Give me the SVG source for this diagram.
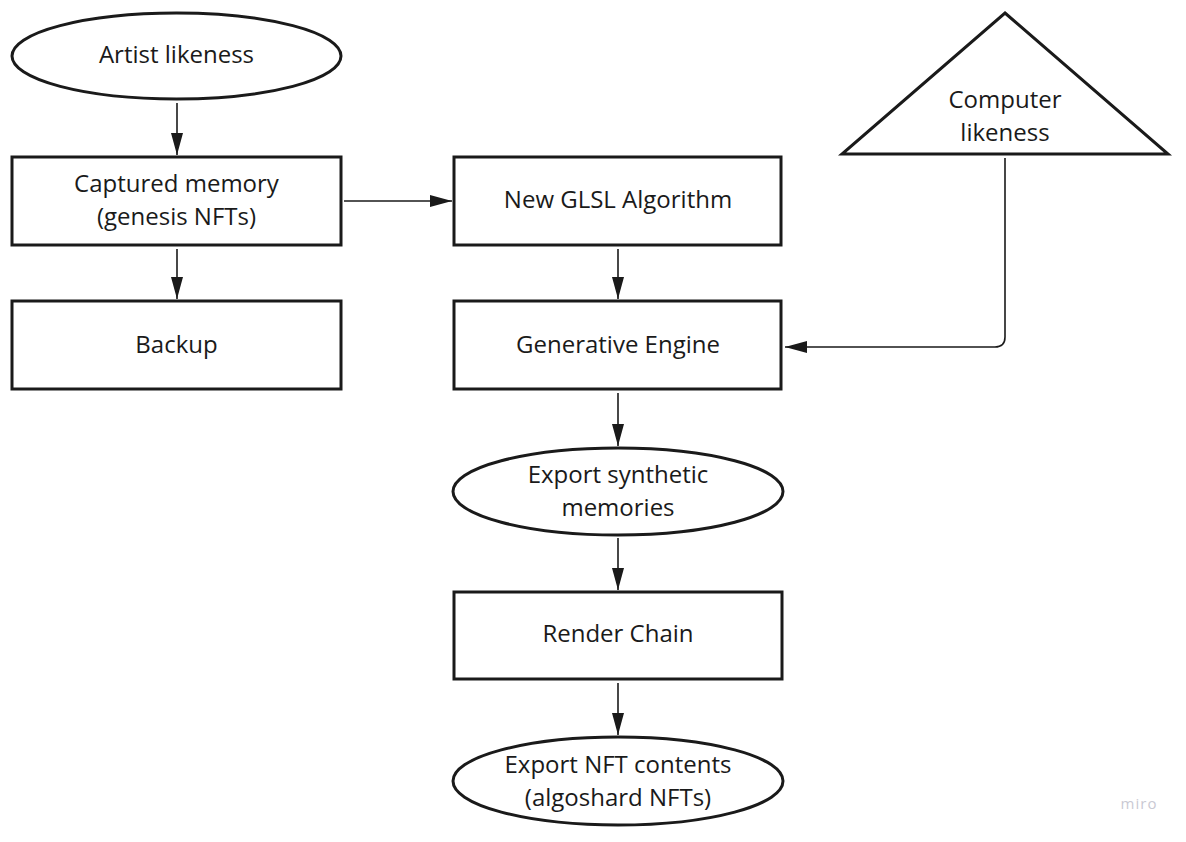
<svg xmlns="http://www.w3.org/2000/svg" width="1186" height="842" viewBox="0 0 1186 842">
<style>
.shape{fill:#fff;stroke:#1a1a1a;stroke-width:3}
.lbl{font-family:"Open Sans","Liberation Sans",sans-serif;font-size:24px;fill:#1a1a1a;text-anchor:middle;dominant-baseline:central}
.con{fill:none;stroke:#1a1a1a;stroke-width:1.6}
</style>
<defs>
<marker id="arr" viewBox="0 0 22 12" refX="22" refY="6" markerWidth="22" markerHeight="12" markerUnits="userSpaceOnUse" orient="auto">
<path d="M0,0 L22,6 L0,12 Z" fill="#1a1a1a"/>
</marker>
</defs>
<rect width="1186" height="842" fill="#fff"/>
<g id="connectors">
<line class="con" x1="177" y1="103" x2="177" y2="155" marker-end="url(#arr)"/>
<line class="con" x1="177" y1="249" x2="177" y2="299" marker-end="url(#arr)"/>
<line class="con" x1="344" y1="201" x2="452" y2="201" marker-end="url(#arr)"/>
<line class="con" x1="618" y1="249" x2="618" y2="299" marker-end="url(#arr)"/>
<path class="con" d="M1005,158 L1005,337 Q1005,347 995,347 L785,347" marker-end="url(#arr)"/>
<line class="con" x1="618" y1="393" x2="618" y2="446" marker-end="url(#arr)"/>
<line class="con" x1="618" y1="538" x2="618" y2="590" marker-end="url(#arr)"/>
<line class="con" x1="618" y1="683" x2="618" y2="735" marker-end="url(#arr)"/>
</g>
<g id="artist-likeness">
<ellipse class="shape" cx="176.5" cy="56" rx="164.5" ry="43"/>
<text class="lbl" x="176.5" y="53">Artist likeness</text>
</g>
<g id="captured-memory">
<rect class="shape" x="12" y="157" width="329" height="88"/>
<text class="lbl" x="176.5" y="182">Captured memory</text>
<text class="lbl" x="176.5" y="215">(genesis NFTs)</text>
</g>
<g id="backup">
<rect class="shape" x="12" y="301" width="329" height="88"/>
<text class="lbl" x="176.5" y="343">Backup</text>
</g>
<g id="new-glsl">
<rect class="shape" x="454" y="157" width="327" height="88"/>
<text class="lbl" x="618" y="198">New GLSL Algorithm</text>
</g>
<g id="computer-likeness">
<polygon class="shape" points="1005,13 1168,154 842,154"/>
<text class="lbl" x="1005" y="98">Computer</text>
<text class="lbl" x="1005" y="131">likeness</text>
</g>
<g id="generative-engine">
<rect class="shape" x="454" y="301" width="327" height="88"/>
<text class="lbl" x="618" y="343">Generative Engine</text>
</g>
<g id="export-synthetic">
<ellipse class="shape" cx="618" cy="491.5" rx="165" ry="43.5"/>
<text class="lbl" x="618" y="473">Export synthetic</text>
<text class="lbl" x="618" y="506">memories</text>
</g>
<g id="render-chain">
<rect class="shape" x="454" y="592" width="328" height="87"/>
<text class="lbl" x="618" y="632">Render Chain</text>
</g>
<g id="export-nft">
<ellipse class="shape" cx="618" cy="781" rx="165" ry="44"/>
<text class="lbl" x="618" y="763">Export NFT contents</text>
<text class="lbl" x="618" y="796">(algoshard NFTs)</text>
</g>
<text x="1139" y="809" style="font-family:'Open Sans','Liberation Sans',sans-serif;font-size:15px;fill:#c9c9d3;text-anchor:middle;letter-spacing:1px">miro</text>
</svg>
